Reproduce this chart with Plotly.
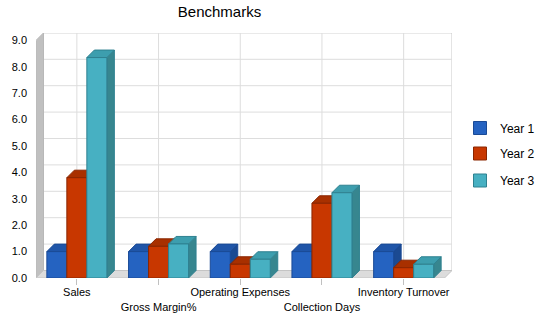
import plotly.graph_objects as go

# ---- data ----
categories = ["Sales", "Gross Margin%", "Operating Expenses", "Collection Days", "Inventory Turnover"]
series_names = ["Year 1", "Year 2", "Year 3"]
year1 = [1.0, 1.0, 1.0, 1.0, 1.0]
year2 = [3.8, 1.2, 0.52, 2.83, 0.39]
year3 = [8.35, 1.29, 0.71, 3.23, 0.52]
y_ticks = [0, 1, 2, 3, 4, 5, 6, 7, 8, 9]

# ---- style ----
front_col = ["#2563c1", "#c83700", "#47b0c2"]
top_col = ["#1f55a8", "#a83000", "#3d9eae"]
side_col = ["#1b4a92", "#8f2900", "#37868f"]
edge_col = ["#1a4a96", "#8a2600", "#2f8190"]
FONT = "Liberation Sans, Arial, sans-serif"

W, H = 550, 318
ML, MR, MT, MB = 36, 98, 33, 40
pw, ph = W - ML - MR, H - MT - MB
px_x = 81.7   # pixels per category
px_y = 26.4   # pixels per unit
DX = 7.5 / px_x
DY = 7.5 / px_y
xr = [-0.5, -0.5 + pw / px_x]
yr = [0, ph / px_y]
BW = 20 / px_x
YMAX = y_ticks[-1]
n = len(categories)

fig = go.Figure()

def poly(xs, ys, fill, line, width=1):
    fig.add_trace(go.Scatter(x=xs + [xs[0]], y=ys + [ys[0]], mode="lines", fill="toself",
                             fillcolor=fill, line=dict(color=line, width=width),
                             hoverinfo="skip", showlegend=False))

# back wall
x0, x1 = -0.5 + DX, n - 0.5 + DX
poly([x0, x1, x1, x0], [DY, DY, YMAX + DY, YMAX + DY], "white", "#c8c8c8")
# gridlines on back wall
gx, gy = [], []
for v in y_ticks[1:-1]:
    gx += [x0, x1, None]
    gy += [v + DY, v + DY, None]
for i in range(n):
    gx += [i, i, None]
    gy += [DY, YMAX + DY, None]
fig.add_trace(go.Scatter(x=gx, y=gy, mode="lines", line=dict(color="#dddddd", width=1),
                         hoverinfo="skip", showlegend=False))
# left wall
poly([-0.5, -0.5 + DX, -0.5 + DX, -0.5], [0, DY, YMAX + DY, YMAX], "#c0c0c0", "#b8b8b8")
# floor
poly([-0.5, n - 0.5, n - 0.5 + DX, -0.5 + DX], [0, 0, DY, DY], "#dcdcdc", "#c4c4c4")

series = [year1, year2, year3]
for i in range(n):
    for k, vals in enumerate(series):
        v = vals[i]
        c = i + (k - 1) * BW
        l, r = c - BW / 2, c + BW / 2
        poly([r, r + DX, r + DX, r], [0, DY, v + DY, v], side_col[k], edge_col[k])
        poly([l, r, r + DX, l + DX], [v, v, v + DY, v + DY], top_col[k], edge_col[k])
        poly([l, r, r, l], [0, 0, v, v], front_col[k], edge_col[k])

legend_names = ["legend", "legend2", "legend3"]
legend_py = [128, 153.5, 180.5]
for k, name in enumerate(series_names):
    fig.add_trace(go.Scatter(x=[None], y=[None], mode="markers", name=name,
                             marker=dict(symbol="square", size=13, color=front_col[k],
                                         line=dict(color=edge_col[k], width=1)),
                             legend=legend_names[k], showlegend=True))

ticktext = [("<br>" if i % 2 else "") + c for i, c in enumerate(categories)]

layout_legends = {}
for k, ln in enumerate(legend_names):
    layout_legends[ln] = dict(x=(460 - ML) / pw, xanchor="left",
                              y=1 - (legend_py[k] - MT) / ph, yanchor="middle",
                              bgcolor="rgba(0,0,0,0)", font=dict(family=FONT, size=12, color="#000"),
                              itemclick=False)

fig.update_layout(
    width=W, height=H,
    margin=dict(l=ML, r=MR, t=MT, b=MB, autoexpand=False),
    paper_bgcolor="white", plot_bgcolor="white",
    title=dict(text="Benchmarks", x=219.5 / W, xanchor="center", y=1 - 12 / H, yanchor="middle",
               font=dict(family=FONT, size=15, color="#000")),
    xaxis=dict(range=xr, tickvals=list(range(n)), ticktext=ticktext, showgrid=False,
               zeroline=False, showline=False, ticks="outside", ticklen=6, tickcolor="#c0c0c0",
               tickangle=0, automargin=False, ticklabelstandoff=-2,
               tickfont=dict(family=FONT, size=11, color="#000"), fixedrange=True),
    yaxis=dict(range=yr, tickvals=y_ticks, ticktext=[f"{v:.1f}" for v in y_ticks], showgrid=False,
               zeroline=False, showline=False, ticks="", ticklabelstandoff=8, automargin=False,
               tickfont=dict(family=FONT, size=11, color="#000"), fixedrange=True),
    showlegend=True,
    **layout_legends,
)

fig.write_html("out.html")
